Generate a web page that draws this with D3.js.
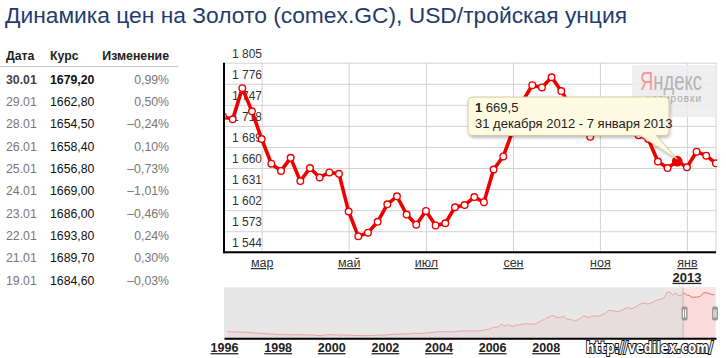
<!DOCTYPE html>
<html><head><meta charset="utf-8">
<script src="https://cdn.jsdelivr.net/npm/d3@7"></script>
<style>
html,body{margin:0;padding:0;background:#fff;overflow:hidden;}
svg{display:block;font-family:"Liberation Sans",Arial,sans-serif;}
</style></head><body>
<svg id="c" width="726" height="358"></svg>
<script>
// ---------- data ----------
const titleText = "Динамика цен на Золото (comex.GC), USD/тройская унция";
const tableHeader = ["Дата", "Курс", "Изменение"];
const tableDates = ["30.01","29.01","28.01","26.01","25.01","24.01","23.01","22.01","21.01","19.01"];
const tableRates = ["1679,20","1662,80","1654,50","1658,40","1656,80","1669,00","1686,00","1693,80","1689,70","1684,60"];
const tableChanges = ["0,99%","0,50%","–0,24%","0,10%","–0,73%","–1,01%","–0,46%","0,24%","0,30%","–0,03%"];

const weekStart = "2012-02-06";
const weekValues = [1731,1727,1770,1738,1700,1666,1656,1674,1642,1660,
                    1647,1654,1652,1600,1566,1571,1586,1610,1621,1596,
                    1582,1601,1581,1584,1606,1609,1620,1613,1658,1676,
                    1712,1752,1774,1771,1785,1766,1745,1718,1703,1722,
                    1730,1728,1738,1705,1700,1669,1660,1669.5,1661,1682.5,
                    1677,1666.5];
const weekEnd = "2013-01-28";
const highlightIndex = 47;
const yTicks = [1544,1573,1602,1631,1660,1689,1718,1747,1776,1805];
const monthTickDates = ["2012-03-05","2012-05-07","2012-07-02","2012-09-03","2012-11-05","2013-01-07"];
const monthTickLabels = ["мар","май","июл","сен","ноя","янв"];
const yearLabel = "2013";

const tooltipValueBold = "1";
const tooltipValueRest = " 669,5";
const tooltipDate = "31 декабря 2012 - 7 января 2013";

const navQuarterStart = "1996-02-15";
const navQuarterValues = [405,390,385,378, 352,342,325,310, 295,298,290,294,
                          287,280,260,300, 288,282,277,268, 265,262,270,278,
                          290,310,315,320, 348,335,360,385, 405,390,400,425];
const navMonthStart = "2005-01-15";
const navMonthValues = [424,424,434,429,422,430,425,438,456,470,476,510,
                        550,555,557,610,675,596,633,632,598,585,627,629,
                        631,665,655,679,667,655,665,665,712,754,806,803,
                        889,922,968,909,888,890,939,839,829,806,760,816,
                        858,943,924,890,928,945,934,949,996,1043,1127,1134,
                        1118,1095,1113,1148,1205,1232,1193,1215,1271,1343,1370,1391,
                        1356,1372,1424,1473,1510,1528,1572,1756,1772,1665,1739,1652,
                        1656,1742,1673,1650,1585,1596,1594,1630,1744,1747,1721,1688,
                        1670];
const navYearTicks = [1996,1998,2000,2002,2004,2006,2008];
const navDomainDates = ["1996-01-01","2008-01-01","2013-01-30"];
const watermarkText = "http://vedilex.com/";

// ---------- setup ----------
const parse = d3.timeParse("%Y-%m-%d");
const svg = d3.select("#c");

// title
svg.append("text").attr("x", 5).attr("y", 22.5)
  .attr("font-size", 22).attr("textLength", 622).attr("lengthAdjust", "spacingAndGlyphs")
  .attr("fill", "#1f3c6b").text(titleText);

// table
const tbl = svg.append("g").attr("font-size", 12.3);
tbl.append("text").attr("x", 6).attr("y", 60).attr("font-weight", "bold").attr("fill", "#222").text(tableHeader[0]);
tbl.append("text").attr("x", 50).attr("y", 60).attr("font-weight", "bold").attr("fill", "#222").text(tableHeader[1]);
tbl.append("text").attr("x", 169).attr("y", 60).attr("text-anchor", "end").attr("font-weight", "bold").attr("fill", "#222").text(tableHeader[2]);
tbl.append("line").attr("x1", 0).attr("x2", 178).attr("y1", 66.5).attr("y2", 66.5).attr("stroke", "#c8c8c8");
const rowY = d3.scaleLinear().domain([0, 1]).range([83.8, 106.1]);
tableDates.forEach((d, i) => {
  const yy = rowY(i);
  tbl.append("text").attr("x", 6).attr("y", yy).attr("fill", i === 0 ? "#444" : "#777")
    .attr("font-weight", i === 0 ? "bold" : null).text(d);
  tbl.append("text").attr("x", 50).attr("y", yy).attr("fill", "#111")
    .attr("font-weight", i === 0 ? "bold" : null).text(tableRates[i]);
  tbl.append("text").attr("x", 169).attr("y", yy).attr("text-anchor", "end").attr("fill", "#777").text(tableChanges[i]);
});

// ---------- main chart ----------
const L = 224, R = 716, T = 62.7, B = 252.3;
const data = weekValues.map((v, i) => ({ date: d3.timeDay.offset(parse(weekStart), 7 * i), value: v }));
const x = d3.scaleTime().domain([parse(weekStart), parse(weekEnd)]).range([223, 715.9]);
const y = d3.scaleLinear().domain([yTicks[0], yTicks[yTicks.length - 1]]).range([B, T]);
const fmtNum = d => String(d).replace(/\B(?=(\d{3})+$)/, " ");

// horizontal grid + labels
const gy = svg.append("g").attr("transform", `translate(${L},0)`)
  .call(d3.axisRight(y).tickValues(yTicks).tickSize(R - L).tickFormat(fmtNum));
gy.select(".domain").remove();
gy.selectAll(".tick line").attr("stroke", "#d2d2d2");
gy.selectAll(".tick text").attr("x", 8).attr("dy", null).attr("y", -5.5)
  .attr("font-size", 12).attr("fill", "#333").attr("font-family", "Liberation Sans, Arial, sans-serif");

// vertical grid + month labels
const gx = svg.append("g").attr("transform", `translate(0,${B})`)
  .call(d3.axisBottom(x).tickValues(monthTickDates.map(parse)).tickSize(-(B - T))
    .tickFormat((d, i) => monthTickLabels[i]));
gx.select(".domain").remove();
gx.selectAll(".tick line").attr("stroke", "#d2d2d2");
gx.selectAll(".tick text").attr("y", 14.7).attr("dy", null)
  .attr("font-size", 12.5).attr("fill", "#333").attr("text-decoration", "underline")
  .attr("font-family", "Liberation Sans, Arial, sans-serif");
gx.append("text").attr("x", x(parse(monthTickDates[monthTickDates.length - 1]))).attr("y", 29.5)
  .attr("text-anchor", "middle").attr("font-size", 13).attr("font-weight", "bold")
  .attr("fill", "#222").attr("text-decoration", "underline")
  .attr("font-family", "Liberation Sans, Arial, sans-serif").text(yearLabel);

// right border
svg.append("line").attr("x1", R).attr("x2", R).attr("y1", T).attr("y2", B).attr("stroke", "#d2d2d2");

// watermark
const wm = svg.append("g");
wm.append("rect").attr("x", 632).attr("y", 65).attr("width", 84).attr("height", 52).attr("rx", 3)
  .attr("fill", "#ececec").attr("opacity", 0.85);
const wt = wm.append("text").attr("x", 640).attr("y", 89.5).attr("font-size", 25)
  .attr("textLength", 62).attr("lengthAdjust", "spacingAndGlyphs");
wt.append("tspan").attr("fill", "#f29a9a").text("Я");
wt.append("tspan").attr("fill", "#b4b4b4").text("ндекс");
wm.append("text").attr("x", 702).attr("y", 101.5).attr("text-anchor", "end").attr("font-size", 10)
  .attr("letter-spacing", 1).attr("fill", "#aaa").text("котировки");

// axes lines
svg.append("line").attr("x1", L).attr("x2", L).attr("y1", T).attr("y2", B + 1).attr("stroke", "#000").attr("stroke-width", 2);
svg.append("line").attr("x1", L - 1).attr("x2", R).attr("y1", B).attr("y2", B).attr("stroke", "#000").attr("stroke-width", 2);

// clip
svg.append("clipPath").attr("id", "plotclip").append("rect")
  .attr("x", L + 1).attr("y", T - 10).attr("width", R - L).attr("height", B - T + 9);
const plot = svg.append("g").attr("clip-path", "url(#plotclip)");
plot.append("path").datum(data)
  .attr("d", d3.line().x(d => x(d.date)).y(d => y(d.value)))
  .attr("fill", "none").attr("stroke", "#ee0000").attr("stroke-width", 3.6)
  .attr("stroke-linejoin", "round");
plot.selectAll("circle.pt").data(data).join("circle").attr("class", "pt")
  .attr("cx", d => x(d.date)).attr("cy", d => y(d.value))
  .attr("r", (d, i) => i === highlightIndex ? 4.6 : 3.3)
  .attr("fill", (d, i) => i === highlightIndex ? "#ee0000" : "#fff")
  .attr("stroke", "#ee0000").attr("stroke-width", 1.4);

// tooltip
const hp = data[highlightIndex];
const tx = x(hp.date), ty = y(hp.value);
const defs = svg.append("defs");
const f = defs.append("filter").attr("id", "sh").attr("x", "-10%").attr("y", "-30%").attr("width", "120%").attr("height", "170%");
f.append("feDropShadow").attr("dx", 1).attr("dy", 2).attr("stdDeviation", 1.6).attr("flood-color", "#000").attr("flood-opacity", 0.25);
const bx0 = 468, bx1 = 669, by0 = 97, by1 = 135.5, rr = 5;
const tipPath = `M${bx0 + rr},${by0} H${bx1 - rr} Q${bx1},${by0} ${bx1},${by0 + rr} V${by1 - rr} Q${bx1},${by1} ${bx1 - rr},${by1}
 H${tx - 21} L${tx},${ty - 2} L${tx - 37},${by1} H${bx0 + rr} Q${bx0},${by1} ${bx0},${by1 - rr} V${by0 + rr} Q${bx0},${by0} ${bx0 + rr},${by0} Z`;
svg.append("path").attr("d", tipPath).attr("fill", "#fffbe3").attr("stroke", "#d6cba0")
  .attr("stroke-width", 1).attr("filter", "url(#sh)");
const t1 = svg.append("text").attr("x", 475).attr("y", 112).attr("font-size", 13).attr("fill", "#222");
t1.append("tspan").attr("font-weight", "bold").text(tooltipValueBold);
t1.append("tspan").text(tooltipValueRest);
svg.append("text").attr("x", 475).attr("y", 127.5).attr("font-size", 13).attr("fill", "#222").text(tooltipDate);

// ---------- navigator ----------
const NT = 287.3, NB = 338.3, NR = 716;
const navData = navQuarterValues.map((v, i) => ({ date: d3.timeMonth.offset(parse(navQuarterStart), 3 * i), value: v }))
  .concat(navMonthValues.map((v, i) => ({ date: d3.timeMonth.offset(parse(navMonthStart), i), value: v })));
const nx = d3.scaleTime().domain(navDomainDates.map(parse)).range([L, 545.7, NR]);
const ny = d3.scaleLinear().domain([170, 1935]).range([NB, NT]);
svg.append("rect").attr("x", L).attr("y", NT).attr("width", NR - L).attr("height", NB - NT).attr("fill", "#e7e7e7");
const selX = nx(parse(weekStart));
svg.append("rect").attr("x", selX).attr("y", NT).attr("width", NR - selX).attr("height", NB - NT).attr("fill", "#fde3e3");
svg.append("path").datum(navData)
  .attr("d", d3.area().x(d => nx(d.date)).y0(NB).y1(d => ny(d.value)))
  .attr("fill", "#e8a0a0").attr("fill-opacity", 0.14);
svg.append("clipPath").attr("id", "navl").append("rect").attr("x", L).attr("y", NT - 2).attr("width", selX - L).attr("height", NB - NT + 2);
svg.append("clipPath").attr("id", "navr").append("rect").attr("x", selX).attr("y", NT - 2).attr("width", NR - selX).attr("height", NB - NT + 2);
const navLine = d3.line().x(d => nx(d.date)).y(d => ny(d.value));
svg.append("path").datum(navData).attr("d", navLine).attr("clip-path", "url(#navl)")
  .attr("fill", "none").attr("stroke", "#eaa4a4").attr("stroke-width", 1);
svg.append("path").datum(navData).attr("d", navLine).attr("clip-path", "url(#navr)")
  .attr("fill", "none").attr("stroke", "#ee7070").attr("stroke-width", 1);
svg.append("line").attr("x1", selX).attr("x2", selX).attr("y1", NT).attr("y2", NB).attr("stroke", "#bbb");

const gn = svg.append("g").attr("transform", `translate(0,${NB})`)
  .call(d3.axisBottom(nx).tickValues(navYearTicks.map(yv => new Date(yv, 0, 1))).tickSize(0).tickSizeOuter(0)
    .tickFormat(d3.timeFormat("%Y")));
gn.select(".domain").attr("stroke", "#000").attr("stroke-width", 2);
gn.selectAll(".tick text").attr("y", 13.8).attr("dy", null).attr("font-size", 12.5).attr("font-weight", "bold")
  .attr("fill", "#222").attr("text-decoration", "underline").attr("font-family", "Liberation Sans, Arial, sans-serif");

// handles
[selX + 1.5, NR - 1].forEach(cx => {
  svg.append("rect").attr("x", cx - 3).attr("y", 306.5).attr("width", 6).attr("height", 14).attr("rx", 2).attr("fill", "#9a9a9a");
  svg.append("line").attr("x1", cx - 1).attr("x2", cx - 1).attr("y1", 309.5).attr("y2", 317.5).attr("stroke", "#fff");
  svg.append("line").attr("x1", cx + 1).attr("x2", cx + 1).attr("y1", 309.5).attr("y2", 317.5).attr("stroke", "#fff");
});

// site watermark
svg.append("text").attr("x", 586).attr("y", 353).attr("font-size", 15).attr("font-weight", "bold")
  .attr("font-family", "DejaVu Sans, sans-serif").attr("textLength", 127).attr("lengthAdjust", "spacingAndGlyphs")
  .attr("fill", "#fff").attr("stroke", "#111").attr("stroke-width", 2.2).attr("paint-order", "stroke")
  .text(watermarkText);
</script>
</body></html>
